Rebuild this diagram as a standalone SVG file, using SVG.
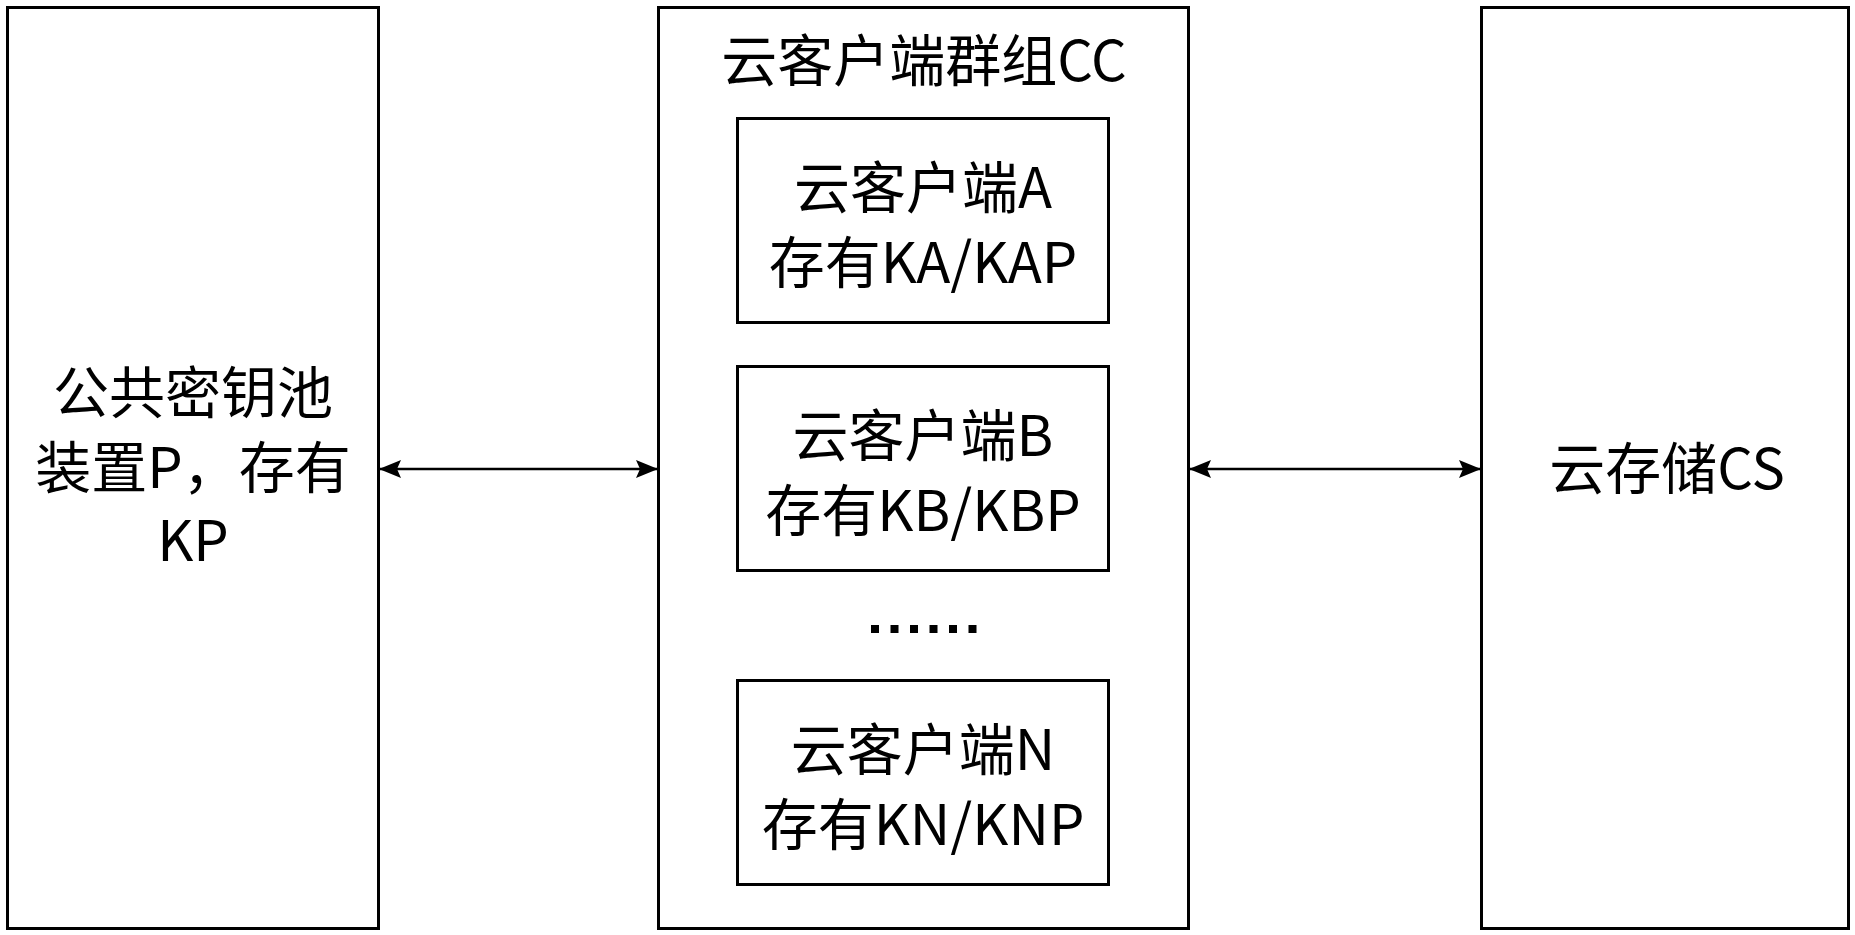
<svg xmlns="http://www.w3.org/2000/svg" width="1855" height="935" viewBox="0 0 1855 935">
<style>
.box{fill:#fff;stroke:#000;stroke-width:3}
.inner{fill:none;stroke:#000;stroke-width:3}
.t{font-family:"Noto Sans CJK SC","Noto Sans",sans-serif;font-size:56px;fill:#000;text-anchor:middle}
.conn{stroke:#000;stroke-width:2.5;fill:none}
</style>
<defs>
<marker id="ah" markerUnits="userSpaceOnUse" markerWidth="22" markerHeight="20" viewBox="0 0 22 20" refX="21" refY="10" orient="auto-start-reverse">
<path d="M0,1 L22,10 L0,19 L4,10 Z" fill="#000"/>
</marker>
</defs>
<rect width="1855" height="935" fill="#fff"/>
<g id="pool">
<rect class="box" x="7.5" y="7.5" width="371" height="921"/>
<text class="t" x="193" y="413">公共密钥池</text>
<text class="t" x="193" y="488">装置P，存有</text>
<text class="t" x="193" y="561">KP</text>
</g>
<g id="group">
<rect class="box" x="658.5" y="7.5" width="530" height="921"/>
<text class="t" x="924" y="81">云客户端群组CC</text>
</g>
<g id="clientA">
<rect class="inner" x="737.5" y="118.5" width="371" height="204"/>
<text class="t" x="923" y="208">云客户端A</text>
<text class="t" x="923" y="283">存有KA/KAP</text>
</g>
<g id="clientB">
<rect class="inner" x="737.5" y="366.5" width="371" height="204"/>
<text class="t" x="923" y="456">云客户端B</text>
<text class="t" x="923" y="531">存有KB/KBP</text>
</g>
<g id="ellipsis" fill="#000">
<rect x="871" y="625" width="8" height="8"/>
<rect x="890.5" y="625" width="8" height="8"/>
<rect x="910" y="625" width="8" height="8"/>
<rect x="929.5" y="625" width="8" height="8"/>
<rect x="949" y="625" width="8" height="8"/>
<rect x="968.5" y="625" width="8" height="8"/>
</g>
<g id="clientN">
<rect class="inner" x="737.5" y="680.5" width="371" height="204"/>
<text class="t" x="923" y="770">云客户端N</text>
<text class="t" x="923" y="845">存有KN/KNP</text>
</g>
<g id="storage">
<rect class="box" x="1481.5" y="7.5" width="367" height="921"/>
<text class="t" x="1667" y="489">云存储CS</text>
</g>
<g id="connectors">
<line class="conn" x1="380" y1="469" x2="657" y2="469" marker-start="url(#ah)" marker-end="url(#ah)"/>
<line class="conn" x1="1190" y1="469" x2="1480" y2="469" marker-start="url(#ah)" marker-end="url(#ah)"/>
</g>
</svg>
